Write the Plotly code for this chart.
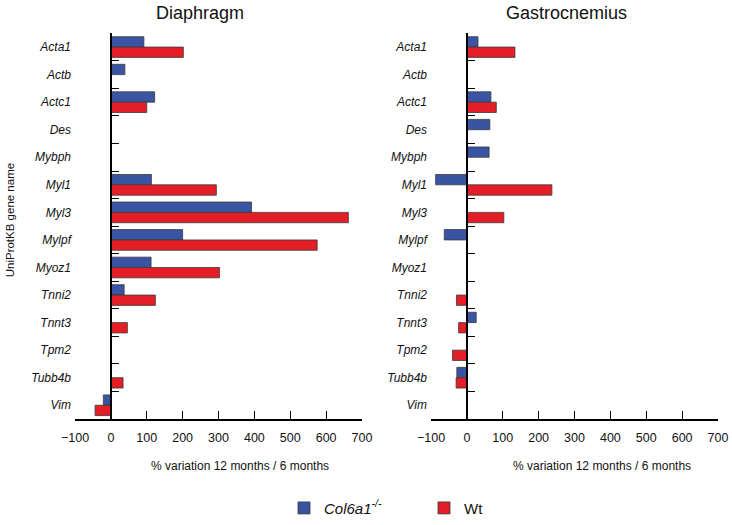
import plotly.graph_objects as go

genes = ["Acta1", "Actb", "Actc1", "Des", "Mybph", "Myl1", "Myl3", "Mylpf",
         "Myoz1", "Tnni2", "Tnnt3", "Tpm2", "Tubb4b", "Vim"]

dia_col6 = [92, 39, 122, None, None, 113, 392, 200, 112, 37, None, None, None, -21]
dia_wt = [202, None, 100, None, None, 294, 662, 575, 303, 124, 46, None, 34, -44]

gas_col6 = [31, None, 67, 64, 62, -87, None, -63, None, None, 26, None, -28, None]
gas_wt = [134, None, 82, None, None, 237, 103, None, None, -29, -23, -40, -30, None]

x_ticks = [-100, 0, 100, 200, 300, 400, 500, 600, 700]

BLUE = "#3a54a4"
RED = "#e31e26"
EDGE = "#3a3a3a"
FONT = "Liberation Sans, Arial, sans-serif"

W, H = 732, 525
xdom1 = [75 / W, 362 / W]
xdom2 = [431 / W, 718 / W]
ydom = [(H - 428) / H, (H - 34) / H]
XR = [-100, 700]
zero_frac = (0 - XR[0]) / (XR[1] - XR[0])

fig = go.Figure()

def add_panel(col6, wt, xa, ya, show):
    fig.add_trace(go.Bar(y=genes, x=col6, orientation="h", name="<i>Col6a1<sup>-/-</sup></i>",
                         marker=dict(color=BLUE, line=dict(color=EDGE, width=0.8)),
                         xaxis=xa, yaxis=ya, showlegend=show, legendgroup="c"))
    fig.add_trace(go.Bar(y=genes, x=wt, orientation="h", name="Wt",
                         marker=dict(color=RED, line=dict(color=EDGE, width=0.8)),
                         xaxis=xa, yaxis=ya, showlegend=show, legendgroup="w"))

add_panel(dia_col6, dia_wt, "x", "y", True)
add_panel(gas_col6, gas_wt, "x2", "y2", False)
# helper traces so the zero-line axes (with boundary ticks) exist
fig.add_trace(go.Scatter(x=[None], y=[None], xaxis="x", yaxis="y3", showlegend=False, hoverinfo="skip"))
fig.add_trace(go.Scatter(x=[None], y=[None], xaxis="x2", yaxis="y4", showlegend=False, hoverinfo="skip"))

n = len(genes)
bounds = [i - 0.5 for i in range(n + 1)]
ticktext = ["<i>%s</i>" % g for g in genes]

def xaxis_cfg(dom, anchor):
    return dict(domain=dom, range=XR, tickvals=x_ticks, ticks="inside", ticklen=8,
                tickwidth=1.2, tickcolor="black", showline=True, linecolor="black",
                linewidth=1.5, zeroline=False, showgrid=False, anchor=anchor, automargin=False,
                ticklabelstandoff=6,
                tickfont=dict(family=FONT, size=12.5, color="#111"), fixedrange=True)

def ycat_cfg(anchor):
    return dict(domain=ydom, type="category", categoryarray=genes, categoryorder="array",
                range=[n - 0.5, -0.5], tickvals=genes, ticktext=ticktext, ticks="",
                showline=False, showgrid=False, zeroline=False, anchor=anchor, automargin=False,
                ticklabelstandoff=3,
                tickfont=dict(family=FONT, size=12, color="#111"))

def yzero_cfg(over, dom):
    return dict(overlaying=over, anchor="free", position=dom[0] + zero_frac * (dom[1] - dom[0]),
                range=[n - 0.5, -0.5], tickvals=bounds, ticks="inside", ticklen=7,
                tickwidth=1.2, tickcolor="black", showline=True, linecolor="black",
                linewidth=1.5, showticklabels=False, showgrid=False, zeroline=False,
                automargin=False)

fig.update_layout(
    width=W, height=H,
    margin=dict(l=0, r=0, t=0, b=0),
    paper_bgcolor="white", plot_bgcolor="white",
    barmode="group", bargap=0.25, bargroupgap=0.0,
    font=dict(family=FONT, color="#111"),
    xaxis=xaxis_cfg(xdom1, "y"),
    xaxis2=xaxis_cfg(xdom2, "y2"),
    yaxis=ycat_cfg("x"),
    yaxis2=ycat_cfg("x2"),
    yaxis3=yzero_cfg("y", xdom1),
    yaxis4=yzero_cfg("y2", xdom2),
    legend=dict(orientation="h", x=284 / W, xanchor="left", y=(H - 519) / H, yanchor="middle",
                font=dict(family=FONT, size=15, color="#111"), entrywidth=95,
                entrywidthmode="pixels", bgcolor="rgba(0,0,0,0)"),
    showlegend=True,
)

annos = [
    dict(text="Diaphragm", x=200 / W, y=(H - 13) / H, font=dict(size=18)),
    dict(text="Gastrocnemius", x=566 / W, y=(H - 13) / H, font=dict(size=18)),
    dict(text="% variation 12 months / 6 months", x=240 / W, y=(H - 476) / H, font=dict(size=12)),
    dict(text="% variation 12 months / 6 months", x=602 / W, y=(H - 476) / H, font=dict(size=12)),
    dict(text="UniProtKB gene name", x=10 / W, y=(H - 225) / H, textangle=-90, font=dict(size=11.5)),
]
for a in annos:
    a.update(xref="paper", yref="paper", showarrow=False, xanchor="center", yanchor="middle")
    a["font"].update(family=FONT, color="#111")
    fig.add_annotation(**a)

fig.write_html("out.html", config={"displayModeBar": False},
               post_script="document.body.style.margin='0';document.body.style.padding='0';")
